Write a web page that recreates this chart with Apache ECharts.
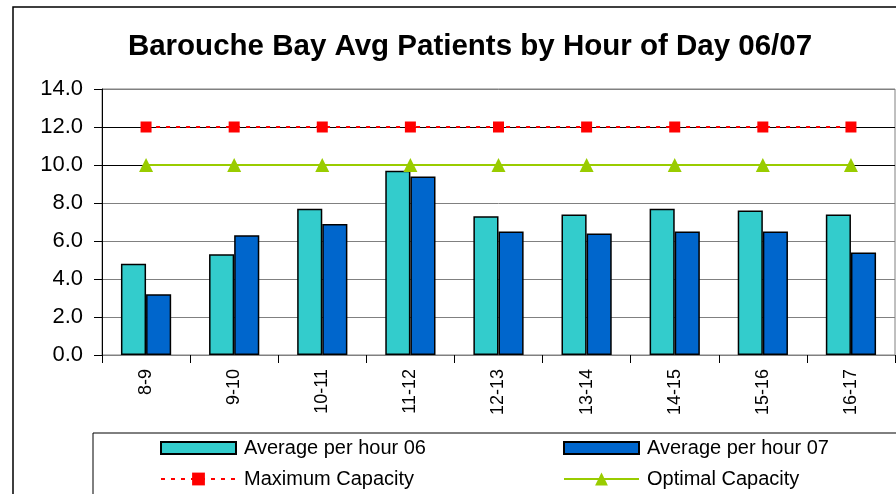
<!DOCTYPE html>
<html>
<head>
<meta charset="utf-8">
<script src="https://cdn.jsdelivr.net/npm/echarts@6/dist/echarts.min.js"></script>
<style>
html,body{margin:0;padding:0;background:#fff;}
#chart{width:896px;height:494px;}
</style>
</head>
<body>
<div id="chart"></div>
<script>
// ---- data ----
var categories = ['8-9','9-10','10-11','11-12','12-13','13-14','14-15','15-16','16-17'];
var avg06 = [4.8, 5.3, 7.7, 9.7, 7.3, 7.4, 7.7, 7.6, 7.4];
var avg07 = [3.2, 6.3, 6.9, 9.4, 6.5, 6.4, 6.5, 6.5, 5.4];
var maxCapacity = [12, 12, 12, 12, 12, 12, 12, 12, 12];
var optCapacity = [10, 10, 10, 10, 10, 10, 10, 10, 10];
var yTicks = [0, 2, 4, 6, 8, 10, 12, 14];
var titleText = 'Barouche Bay Avg Patients by Hour of Day 06/07';
var seriesNames = ['Average per hour 06', 'Average per hour 07', 'Maximum Capacity', 'Optimal Capacity'];

var FONT = "'Liberation Sans', Arial, sans-serif";
var chart = echarts.init(document.getElementById('chart'), null, {renderer: 'canvas'});

function legendAt(name, left, top, isBar) {
  return {
    data: [isBar ? {name: name, icon: 'rect'} : name],
    left: left, top: top,
    padding: 0,
    itemWidth: 75, itemHeight: isBar ? 12 : 16, itemGap: 0,
    selectedMode: false,
    textStyle: {fontFamily: FONT, fontSize: 20, color: '#000', padding: [0, 0, 0, 3]}
  };
}

var option = {
  backgroundColor: '#fff',
  animation: false,
  title: {
    text: titleText,
    left: 465, top: 27,
    textAlign: 'center',
    textStyle: {fontFamily: FONT, fontSize: 29.5, fontWeight: 'bold', color: '#000'}
  },
  graphic: [
    {type: 'rect', shape: {x: 13, y: 7, width: 900, height: 500}, style: {fill: 'none', stroke: '#000', lineWidth: 1.5}, silent: true, z: -1},
    {type: 'rect', shape: {x: 93, y: 433, width: 900, height: 100}, style: {fill: 'none', stroke: '#000', lineWidth: 1}, silent: true, z: -1}
  ],
  legend: [
    legendAt(seriesNames[0], 160, 438, true),
    legendAt(seriesNames[1], 563, 438, true),
    legendAt(seriesNames[2], 160, 469, false),
    legendAt(seriesNames[3], 563, 469, false)
  ],
  grid: {
    left: 102, right: 1, top: 89, bottom: 139,
    show: true, borderColor: '#808080', borderWidth: 1,
    containLabel: false
  },
  xAxis: {
    type: 'category',
    data: categories,
    axisLine: {show: true, lineStyle: {color: '#808080', width: 1}},
    axisTick: {show: true, length: 8, lineStyle: {color: '#000'}},
    axisLabel: {rotate: 90, margin: 14, fontFamily: FONT, fontSize: 18, color: '#000'},
    splitLine: {show: false}
  },
  yAxis: {
    type: 'value',
    min: yTicks[0], max: yTicks[yTicks.length - 1], interval: 2,
    axisLine: {show: true, lineStyle: {color: '#000', width: 1}},
    axisTick: {show: true, length: 8, lineStyle: {color: '#000'}},
    axisLabel: {margin: 19, fontFamily: FONT, fontSize: 22, color: '#000',
      formatter: function (v) { return v.toFixed(1); }},
    splitLine: {show: true, lineStyle: {width: 1,
      color: ['#808080','#808080','#808080','#808080','#808080','#000','#000','#808080']}}
  },
  series: [
    {
      name: seriesNames[0], type: 'bar', data: avg06,
      barGap: '0%', barCategoryGap: '43%',
      itemStyle: {color: '#33CCCC', borderColor: '#000', borderWidth: 1.5}
    },
    {
      name: seriesNames[1], type: 'bar', data: avg07,
      barGap: '0%', barCategoryGap: '43%',
      itemStyle: {color: '#0066CC', borderColor: '#000', borderWidth: 1.5}
    },
    {
      name: seriesNames[2], type: 'line', data: maxCapacity,
      symbol: 'rect', symbolSize: 11,
      lineStyle: {color: '#FF0000', width: 2, type: [4, 6]},
      itemStyle: {color: '#FF0000'},
      z: 5
    },
    {
      name: seriesNames[3], type: 'line', data: optCapacity,
      symbol: 'triangle', symbolSize: 14,
      lineStyle: {color: '#99CC00', width: 2, type: 'solid'},
      itemStyle: {color: '#99CC00'},
      z: 5
    }
  ]
};
chart.setOption(option);
</script>
</body>
</html>
